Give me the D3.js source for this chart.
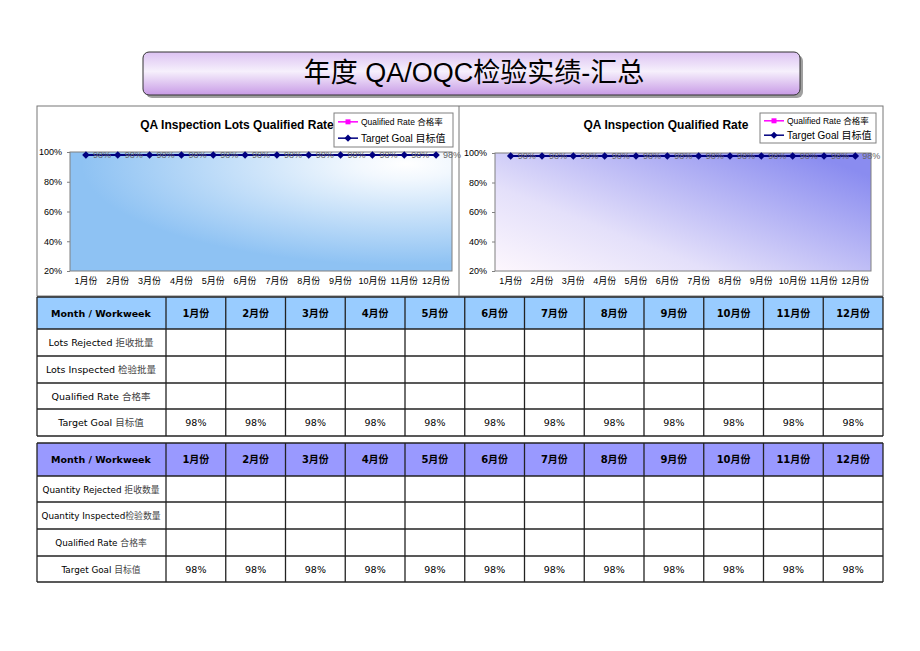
<!DOCTYPE html>
<html><head><meta charset="utf-8">
<script src="https://cdn.jsdelivr.net/npm/d3@7/dist/d3.min.js"></script>
<style>html,body{margin:0;padding:0;background:#fff;}svg{display:block;}</style>
</head><body>
<svg id="c" width="920" height="651"></svg>
<script>
// ---------- data ----------
const pageTitle = "年度 QA/OQC检验实绩-汇总";
const months = ["1月份","2月份","3月份","4月份","5月份","6月份","7月份","8月份","9月份","10月份","11月份","12月份"];
const targetGoal = [98,98,98,98,98,98,98,98,98,98,98,98];
const qualifiedRate = [null,null,null,null,null,null,null,null,null,null,null,null];
const yTicks = [20,40,60,80,100];
const chartTitles = ["QA Inspection Lots Qualified Rate","QA Inspection Qualified Rate"];
const legendNames = [["Qualified Rate"," 合格率"],["Target Goal"," 目标值"]];
const headerLabel = "Month / Workweek";
const table1Rows = [["Lots Rejected"," 拒收批量"],["Lots Inspected"," 检验批量"],["Qualified Rate"," 合格率"],["Target Goal"," 目标值"]];
const table2Rows = [["Quantity Rejected"," 拒收数量"],["Quantity Inspected","检验数量"],["Qualified Rate"," 合格率"],["Target Goal"," 目标值"]];

const svg = d3.select("#c");
const FONT = "'Liberation Sans', Arial, 'Noto Sans CJK SC', sans-serif";
const TFONT = "'DejaVu Sans', 'Noto Sans CJK SC', sans-serif";
const defs = svg.append("defs");
const diamond = d3.symbolDiamond2 || d3.symbolDiamond;

// banner gradient
const bg = defs.append("linearGradient").attr("id","ban").attr("x1",0).attr("y1",0).attr("x2",0).attr("y2",1);
bg.append("stop").attr("offset",0).attr("stop-color","#dcc2f2");
bg.append("stop").attr("offset",0.45).attr("stop-color","#f6f0fc");
bg.append("stop").attr("offset",1).attr("stop-color","#c89be6");

const g1 = defs.append("radialGradient").attr("id","p1").attr("cx",0.88).attr("cy",0.1).attr("r",0.85).attr("fx",0.88).attr("fy",0.1);
g1.append("stop").attr("offset",0).attr("stop-color","#ffffff");
g1.append("stop").attr("offset",0.15).attr("stop-color","#f2f8fe");
g1.append("stop").attr("offset",1).attr("stop-color","#8ec2f3");

const g2 = defs.append("linearGradient").attr("id","p2").attr("x1",0).attr("y1",1).attr("x2",1).attr("y2",0.2);
g2.append("stop").attr("offset",0).attr("stop-color","#fdf7fd");
g2.append("stop").attr("offset",0.35).attr("stop-color","#e4e0fa");
g2.append("stop").attr("offset",1).attr("stop-color","#8a8cf0");

// ---------- banner ----------
svg.append("rect").attr("x",146).attr("y",55).attr("width",657).attr("height",43).attr("rx",6).attr("fill","#a0a0a0");
svg.append("rect").attr("x",143).attr("y",52).attr("width",657).attr("height",43).attr("rx",6)
  .attr("fill","url(#ban)").attr("stroke","#333").attr("stroke-width",1);
svg.append("text").attr("x",474).attr("y",82).attr("text-anchor","middle")
  .attr("font-family",FONT).attr("font-size",27).attr("fill","#000").text(pageTitle);

// ---------- chart frame ----------
svg.append("rect").attr("x",37).attr("y",106).attr("width",846).attr("height",190).attr("fill","#fff").attr("stroke","#777");
svg.append("line").attr("x1",459).attr("x2",459).attr("y1",106).attr("y2",296).attr("stroke","#777");

function drawChart(cfg){
  const x = d3.scaleBand().domain(months).range([cfg.x0,cfg.x1]);
  const y = d3.scaleLinear().domain([20,100]).range([cfg.y1,cfg.y0]);
  const g = svg.append("g");
  g.append("rect").attr("x",cfg.x0).attr("y",cfg.y0).attr("width",cfg.x1-cfg.x0).attr("height",cfg.y1-cfg.y0)
    .attr("fill",cfg.fill).attr("stroke","#808080");
  const ya = g.append("g").attr("transform",`translate(${cfg.x0},0)`)
    .call(d3.axisLeft(y).tickValues(yTicks).tickSize(3).tickFormat(d=>d+"%"));
  ya.select(".domain").remove();
  ya.selectAll("line").attr("stroke","#808080");
  ya.selectAll("text").attr("font-family",FONT).attr("font-size",9).attr("fill","#000").attr("dx",-2);
  const xa = g.append("g").attr("transform",`translate(0,${cfg.y1})`).call(d3.axisBottom(x).tickSize(0));
  xa.select(".domain").remove();
  xa.selectAll("text").attr("font-family",FONT).attr("font-size",9).attr("fill","#000").attr("dy",10);
  // title
  g.append("text").attr("x",cfg.tx).attr("y",129).attr("text-anchor","middle").attr("font-family",FONT)
    .attr("font-weight","bold").attr("font-size",12).attr("fill","#000").text(cfg.title);
  // series
  const line = d3.line().defined(d=>d!=null).x((d,i)=>x(months[i])+x.bandwidth()/2).y(d=>y(d));
  g.append("path").datum(qualifiedRate).attr("d",line).attr("fill","none").attr("stroke","#ff00ff").attr("stroke-width",1.5);
  g.append("path").datum(targetGoal).attr("d",line).attr("fill","none").attr("stroke","#000080").attr("stroke-width",2);
  g.selectAll(".lab").data(targetGoal).join("text")
    .attr("x",(d,i)=>x(months[i])+x.bandwidth()/2+7).attr("y",d=>y(d)+3.5)
    .attr("font-family",FONT).attr("font-size",9).attr("fill","#666").text(d=>d+"%");
  g.selectAll(".mk").data(targetGoal).join("path")
    .attr("d",d3.symbol(diamond,36))
    .attr("transform",(d,i)=>`translate(${x(months[i])+x.bandwidth()/2},${y(d)})`)
    .attr("fill","#000080");
  // legend
  const L = cfg.leg;
  g.append("rect").attr("x",L.x).attr("y",L.y).attr("width",L.w).attr("height",L.h).attr("fill","#fff").attr("stroke","#808080");
  const colors = ["#ff00ff","#000080"];
  const sizes = [8.5,10];
  legendNames.forEach((nm,i)=>{
    const yy = L.y + L.h*(i===0?0.26:0.74);
    g.append("line").attr("x1",L.x+4).attr("x2",L.x+24).attr("y1",yy).attr("y2",yy).attr("stroke",colors[i]).attr("stroke-width",1.5);
    g.append("path").attr("d",d3.symbol(i===0?d3.symbolSquare:diamond,i===0?25:32)).attr("transform",`translate(${L.x+14},${yy})`).attr("fill",colors[i]);
    g.append("text").attr("x",L.x+27).attr("y",yy+3.5).attr("font-family",FONT).attr("font-size",sizes[i]).attr("fill","#000").text(nm[0]+nm[1]);
  });
}
drawChart({x0:70,x1:452,y0:152,y1:271,fill:"url(#p1)",tx:237,title:chartTitles[0],leg:{x:334,y:113,w:119,h:34}});
drawChart({x0:495,x1:871,y0:153,y1:271,fill:"url(#p2)",tx:666,title:chartTitles[1],leg:{x:760,y:113,w:116,h:30}});

// ---------- tables ----------
function drawTable(cfg){
  const cx = d3.scaleBand().domain(months).range([166,883]);
  const g = svg.append("g");
  const ys = cfg.rows; // row boundaries
  g.append("rect").attr("x",37).attr("y",ys[0]).attr("width",846).attr("height",ys[1]-ys[0]).attr("fill",cfg.head);
  g.append("text").attr("x",101).attr("y",(ys[0]+ys[1])/2+3.5).attr("text-anchor","middle")
    .attr("font-family",TFONT).attr("font-weight","bold").attr("font-size",9.5).attr("fill","#000").text(headerLabel);
  g.selectAll(".mh").data(months).join("text").attr("x",d=>cx(d)+cx.bandwidth()/2).attr("y",(ys[0]+ys[1])/2+3.5)
    .attr("text-anchor","middle").attr("font-family",TFONT).attr("font-weight","bold").attr("font-size",10).attr("fill","#000").text(d=>d);
  cfg.labels.forEach((lab,r)=>{
    const yy = (ys[r+1]+ys[r+2])/2+3.5;
    const t = g.append("text").attr("x",101).attr("y",yy).attr("text-anchor","middle").attr("font-family",TFONT).attr("font-size",cfg.fs);
    t.append("tspan").attr("fill","#000").text(lab[0]);
    t.append("tspan").attr("fill","#444").text(lab[1]);
  });
  const r = ys.length-2;
  g.selectAll(".tv").data(targetGoal).join("text").attr("x",(d,i)=>cx(months[i])+cx.bandwidth()/2).attr("y",(ys[r]+ys[r+1])/2+3.5)
    .attr("text-anchor","middle").attr("font-family",TFONT).attr("font-size",9.5).attr("fill","#000").text(d=>d+"%");
  ys.forEach(v=>g.append("line").attr("x1",37).attr("x2",883).attr("y1",v).attr("y2",v).attr("stroke","#222").attr("stroke-width",1.3));
  const xs = [37,166].concat(months.map(m=>cx(m)+cx.bandwidth()));
  xs.forEach(v=>g.append("line").attr("x1",v).attr("x2",v).attr("y1",ys[0]).attr("y2",ys[ys.length-1]).attr("stroke","#222").attr("stroke-width",1.3));
}
drawTable({rows:[297,329,356,383,409,436],head:"#99ccff",labels:table1Rows,fs:9.5});
drawTable({rows:[443,476,502,529,556,582],head:"#9999ff",labels:table2Rows,fs:8.8});
</script>
</body></html>
